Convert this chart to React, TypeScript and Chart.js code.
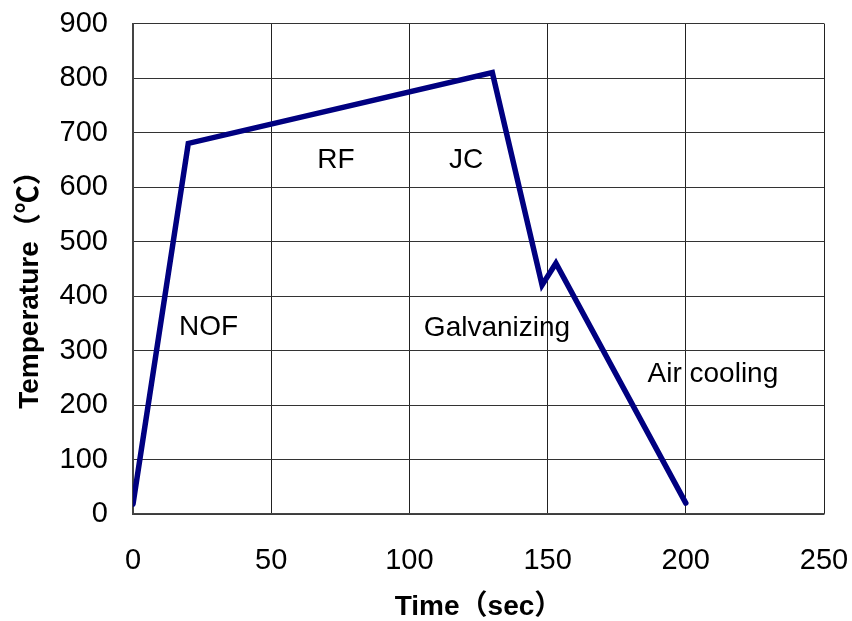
import React, { useEffect, useRef } from "react";
import { Chart, registerables } from "chart.js";

Chart.register(...registerables);

const timeSec = [0, 20, 130, 148, 153, 200];
const temperature = [18, 680, 810, 420, 460, 20];

const xTicks = [0, 50, 100, 150, 200, 250];
const yTicks = [0, 100, 200, 300, 400, 500, 600, 700, 800, 900];

const zoneNames = ["NOF", "RF", "JC", "Galvanizing", "Air cooling"];
const zoneX = [27.3, 73.4, 120.5, 131.7, 209.8];
const zoneY = [343, 649, 649, 341, 257];

const xTitle = "Time（sec）";
const yTitle = "Temperature（℃）";

const FONT = "'Liberation Sans', Arial, 'Noto Sans CJK JP', sans-serif";

const textPlugin = {
  id: "zoneText",
  afterDraw(chart: any) {
    const { ctx, scales } = chart;
    const xs = scales.x;
    const ys = scales.y;
    ctx.save();
    ctx.fillStyle = "#000";
    ctx.font = `28px ${FONT}`;
    ctx.textAlign = "center";
    ctx.textBaseline = "middle";
    zoneNames.forEach((t, i) => {
      ctx.fillText(t, xs.getPixelForValue(zoneX[i]), ys.getPixelForValue(zoneY[i]));
    });
    // y axis title
    ctx.translate(30, 283);
    ctx.rotate(-Math.PI / 2);
    ctx.font = `bold 28px ${FONT}`;
    ctx.fillText(yTitle, 0, 0);
    ctx.restore();
  },
};

export default function App() {
  const ref = useRef<HTMLCanvasElement>(null);
  useEffect(() => {
    document.body.style.margin = "0";
    const chart = new Chart(ref.current!, {
      type: "line",
      data: {
        datasets: [
          {
            data: timeSec.map((t, i) => ({ x: t, y: temperature[i] })),
            borderColor: "#000080",
            borderWidth: 5.5,
            pointRadius: 0,
            borderJoinStyle: "miter",
            borderCapStyle: "round",
            tension: 0,
            fill: false,
          },
        ],
      },
      options: {
        animation: false,
        responsive: false,
        layout: { padding: { left: 0, top: 23.5, right: 28, bottom: 0 } },
        plugins: { legend: { display: false }, tooltip: { enabled: false } },
        scales: {
          x: {
            type: "linear",
            min: 0,
            max: 250,
            afterBuildTicks: (s: any) => {
              s.ticks = xTicks.map((v) => ({ value: v }));
            },
            afterFit: (s: any) => {
              s.height = 107;
              s.paddingLeft = 0;
              s.paddingRight = 0;
            },
            grid: { color: "#222", lineWidth: 1, drawTicks: false },
            border: { color: "#444", width: 1.5 },
            ticks: {
              color: "#000",
              font: { family: FONT, size: 29 },
              padding: 30,
              maxRotation: 0,
            },
            title: {
              display: true,
              text: xTitle,
              color: "#000",
              font: { family: FONT, size: 28, weight: "bold", lineHeight: 1 },
              padding: { top: 0, bottom: 0 },
            },
          },
          y: {
            type: "linear",
            min: 0,
            max: 900,
            afterBuildTicks: (s: any) => {
              s.ticks = yTicks.map((v) => ({ value: v }));
            },
            afterFit: (s: any) => {
              s.width = 133;
              s.paddingTop = 0;
              s.paddingBottom = 0;
            },
            grid: { color: "#333", lineWidth: 1, drawTicks: false },
            border: { color: "#444", width: 2 },
            ticks: {
              color: "#000",
              font: { family: FONT, size: 29 },
              padding: 25,
            },
          },
        },
      },
      plugins: [textPlugin],
    } as any);
    return () => chart.destroy();
  }, []);
  return (
    <div style={{ width: 852, height: 621 }}>
      <canvas ref={ref} width={852} height={621} style={{ display: "block" }} />
    </div>
  );
}
